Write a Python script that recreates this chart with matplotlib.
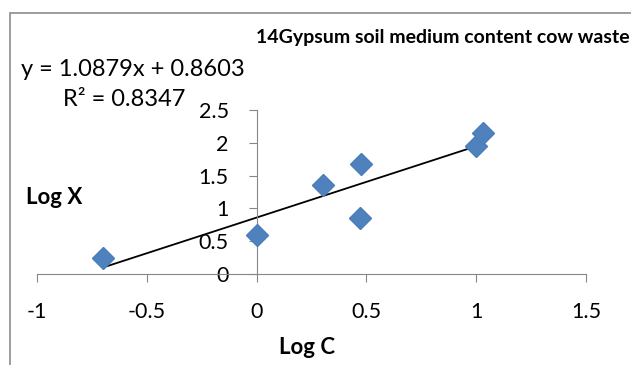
import numpy as np
import matplotlib.pyplot as plt
from matplotlib.patches import Rectangle

# data (Log C vs Log X)
log_c = [-0.699, 0.0, 0.301, 0.477, 0.470, 1.0, 1.03]
log_x = [0.25, 0.60, 1.36, 1.67, 0.85, 1.95, 2.15]

slope = 1.0879
intercept = 0.8603
r2 = 0.8347

x_ticks = [-1, -0.5, 0, 0.5, 1, 1.5]
y_ticks = [0, 0.5, 1, 1.5, 2, 2.5]

plt.rcParams['font.family'] = ['Lato', 'DejaVu Sans']

fig = plt.figure(figsize=(6.31, 3.65), dpi=100)
W, H = 631, 365

# chart border (cut by image edges)
fig.patches.append(Rectangle((10 / W, -0.1), 1.2, 1.1 - 13 / H,
                             transform=fig.transFigure, fill=False,
                             edgecolor='#8c8c8c', linewidth=1.2))

ax = fig.add_axes([37 / W, 1 - 274 / H, 549 / W, 164 / H])
ax.set_xlim(-1, 1.5)
ax.set_ylim(0, 2.5)

for s in ['top', 'right']:
    ax.spines[s].set_visible(False)
ax.spines['left'].set_position(('data', 0))
ax.spines['left'].set_color('#868686')
ax.spines['bottom'].set_color('#868686')

ax.set_xticks(x_ticks)
ax.set_xticklabels(['-1', '-0.5', '0', '0.5', '1', '1.5'])
ax.set_yticks(y_ticks)
ax.set_yticklabels(['0', '0.5', '1', '1.5', '2', '2.5'])
ax.tick_params(axis='both', colors='#868686', labelcolor='black', labelsize=15.5,
               length=6, direction='out')
ax.tick_params(axis='x', pad=14)
ax.tick_params(axis='y', pad=14)

# trendline
xs = np.array([min(log_c), max(log_c)])
ax.plot(xs, slope * xs + intercept, color='black', linewidth=1.3, zorder=2)

ax.plot(log_c, log_x, linestyle='none', marker='D', markersize=11,
        markerfacecolor='#4F81BD', markeredgecolor='#4A7EBB', zorder=3, clip_on=False)

fig.text(256 / W, 1 - 38 / H, '14Gypsum soil medium content cow waste',
         fontsize=14, fontweight='bold', va='center', ha='left')
fig.text(21 / W, 1 - 70 / H, f'y = {slope}x + {intercept}', fontsize=17,
         va='center', ha='left')
fig.text(63 / W, 1 - 100 / H, f'R² = {r2}', fontsize=17, va='center', ha='left')
fig.text(26 / W, 1 - 197 / H, 'Log X', fontsize=16, fontweight='bold',
         va='center', ha='left')
fig.text(307 / W, 1 - 347 / H, 'Log C', fontsize=16, fontweight='bold',
         va='center', ha='center')

fig.savefig('out.png', dpi=100)
